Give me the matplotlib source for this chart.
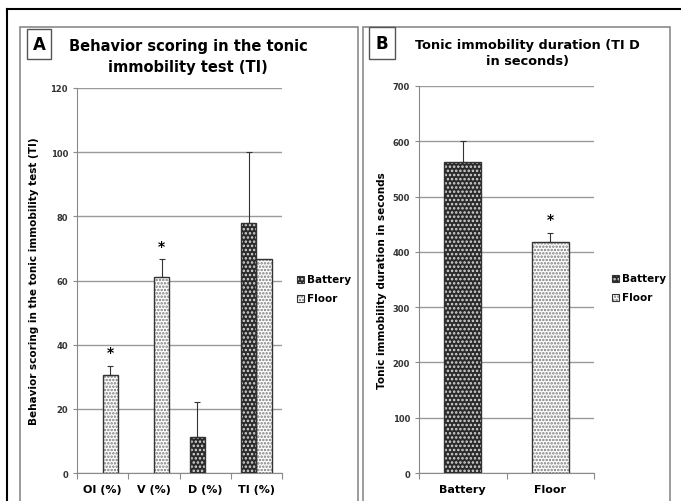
import numpy as np
import matplotlib.pyplot as plt
from matplotlib.patches import Rectangle
from matplotlib.lines import Line2D

# panel A data
cats_a = ['OI (%)', 'V (%)', 'D (%)', 'TI (%)']
battery_a = [0, 0, 11.1, 77.8]
battery_err_a = [0, 0, 11.1, 22.2]
floor_a = [30.5, 61.1, 0, 66.7]
floor_err_a = [3.0, 5.6, 0, 0]
stars_a = [(0, 'Floor'), (1, 'Floor')]

# panel B data
cats_b = ['Battery', 'Floor']
dur_b = [562, 418]
dur_err_b = [38, 17]

W, H = 681, 502
fig = plt.figure(figsize=(W / 100, H / 100), dpi=100)
plt.rcParams['font.family'] = 'DejaVu Sans'
plt.rcParams['hatch.linewidth'] = 1.2

def px(x0, y0, x1, y1):
	# pixel box (top-left origin) -> figure fraction rect
	return [x0 / W, 1 - y1 / H, (x1 - x0) / W, (y1 - y0) / H]

# frame lines and panel boxes
fig.add_artist(Line2D([7 / W, 1], [1 - 10 / H, 1 - 10 / H], color='black', lw=1.5))
fig.add_artist(Line2D([7 / W, 7 / W], [0, 1 - 10 / H], color='black', lw=1.5))
for (x0, x1) in [(20, 358), (363, 670)]:
	fig.add_artist(Rectangle((x0 / W, -0.05), (x1 - x0) / W, 1 - 28 / H + 0.05,
		fill=False, edgecolor='#8a8a8a', lw=1.2))

# battery: dark with light dots, floor: white with grey dots
BAT = dict(hatch='....', face='#2a2a2a', dots='#d8d8d8')
FLR = dict(hatch='.....', face='white', dots='#7a7a7a')

def hbar(ax, x, h, w, style, err=0):
	if h <= 0:
		return
	ax.bar(x, h, w, color=style['face'], edgecolor=style['dots'], hatch=style['hatch'], linewidth=0, zorder=3)
	ax.bar(x, h, w, fill=False, edgecolor='#333333', linewidth=1.0, zorder=4)
	if err > 0:
		ax.errorbar(x, h, yerr=[[0], [err]], fmt='none', ecolor='#333333', elinewidth=0.8,
			capsize=2, capthick=0.8, zorder=5)

def style_axes(ax, ncat, ymax, step):
	ax.set_xlim(-0.5, ncat - 0.5)
	ax.set_ylim(0, ymax)
	ax.set_yticks(np.arange(0, ymax + 1, step))
	ax.yaxis.grid(True, color='#9a9a9a', lw=1.0, zorder=0)
	ax.set_axisbelow(True)
	for s in ['top', 'right']:
		ax.spines[s].set_visible(False)
	for s in ['left', 'bottom']:
		ax.spines[s].set_color('#8a8a8a')
	ax.tick_params(axis='y', labelsize=6, colors='#8a8a8a', length=3, labelcolor='#333333')
	ax.set_xticks(np.arange(-0.5, ncat, 1.0))
	ax.set_xticklabels([])
	ax.tick_params(axis='x', which='major', length=4, colors='#8a8a8a')
	ax.set_xticks(np.arange(ncat), minor=True)
	ax.tick_params(axis='x', which='minor', length=0, pad=8, labelsize=8)
	for lab in ax.get_yticklabels():
		lab.set_fontweight('bold')

def legend(x, y):
	for i, (name, st) in enumerate([('Battery', BAT), ('Floor', FLR)]):
		yy = y + i * 19
		fig.add_artist(Rectangle((x / W, 1 - (yy + 4) / H), 7 / W, 7 / H, facecolor=st['face'],
			edgecolor=st['dots'], hatch=st['hatch'], lw=0))
		fig.add_artist(Rectangle((x / W, 1 - (yy + 4) / H), 7 / W, 7 / H, fill=False,
			edgecolor='#333333', lw=0.8))
		fig.text((x + 10) / W, 1 - yy / H, name, fontsize=7.5, fontweight='bold', va='center')

# panel A
ax1 = fig.add_axes(px(77, 89, 282, 474))
bw = 0.3
xa = np.arange(len(cats_a))
for i in range(len(cats_a)):
	hbar(ax1, xa[i] - bw / 2, battery_a[i], bw, BAT, battery_err_a[i])
	hbar(ax1, xa[i] + bw / 2, floor_a[i], bw, FLR, floor_err_a[i])
for i, grp in stars_a:
	ax1.text(xa[i] + bw / 2, floor_a[i] + floor_err_a[i] + 2, '*', ha='center', va='bottom',
		fontsize=10, fontweight='bold')
style_axes(ax1, len(cats_a), 120, 20)
ax1.set_xticklabels(cats_a, minor=True, fontweight='bold')
ax1.set_ylabel('Behavior scoring in the tonic immobility test (TI)', fontsize=7.5,
	fontweight='bold', labelpad=8)
fig.text(188 / W, 1 - 57 / H, 'Behavior scoring in the tonic\nimmobility test (TI)',
	ha='center', va='center', fontsize=10.5, fontweight='bold', linespacing=1.55)
fig.text(39 / W, 1 - 45 / H, 'A', ha='center', va='center', fontsize=12, fontweight='bold',
	bbox=dict(boxstyle='square,pad=0.35', facecolor='white', edgecolor='#555555', lw=1))
legend(297, 280)

# panel B
ax2 = fig.add_axes(px(419, 87, 594, 474))
bw2 = 0.42
xb = np.arange(len(cats_b))
hbar(ax2, xb[0], dur_b[0], bw2, BAT, dur_err_b[0])
hbar(ax2, xb[1], dur_b[1], bw2, FLR, dur_err_b[1])
ax2.text(xb[1], dur_b[1] + dur_err_b[1] + 12, '*', ha='center', va='bottom', fontsize=10,
	fontweight='bold')
style_axes(ax2, len(cats_b), 700, 100)
ax2.set_xticklabels(cats_b, minor=True, fontweight='bold')
ax2.set_ylabel('Tonic immobility duration in seconds', fontsize=7.5, fontweight='bold', labelpad=4)
fig.text(527 / W, 1 - 54 / H, 'Tonic immobility duration (TI D\nin seconds)',
	ha='center', va='center', fontsize=9.3, fontweight='bold', linespacing=1.3)
fig.text(382 / W, 1 - 44 / H, 'B', ha='center', va='center', fontsize=12, fontweight='bold',
	bbox=dict(boxstyle='square,pad=0.4', facecolor='white', edgecolor='#555555', lw=1))
legend(612, 279)

fig.savefig('out.png', dpi=100)
